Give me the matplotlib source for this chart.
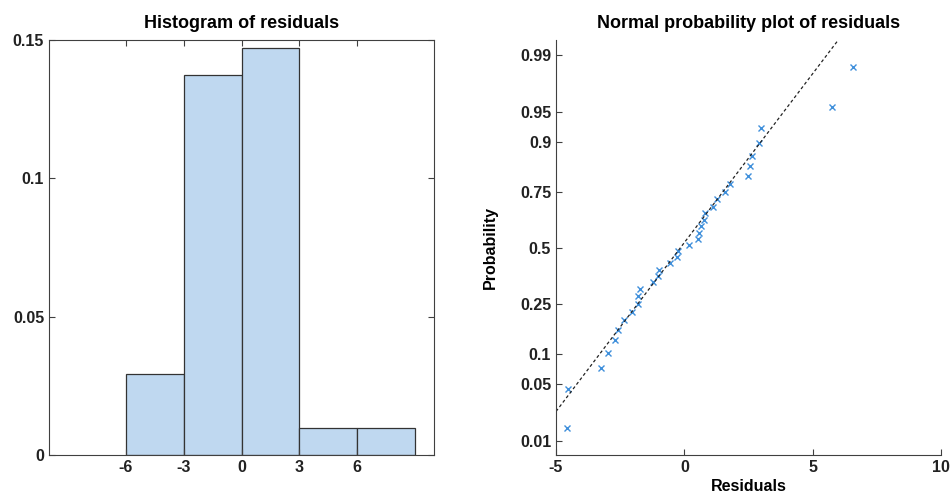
import numpy as np
import matplotlib
matplotlib.use('Agg')
import matplotlib.pyplot as plt
from statistics import NormalDist

# residuals (sorted)
residuals = [-4.58, -4.55, -3.25, -2.97, -2.69, -2.58, -2.36, -2.04, -1.82, -1.79,
             -1.74, -1.21, -1.01, -0.97, -0.56, -0.29, -0.23, 0.19, 0.53, 0.58,
             0.65, 0.75, 0.79, 1.13, 1.27, 1.57, 1.78, 2.49, 2.56, 2.65,
             2.92, 2.99, 5.75, 6.57]
bin_edges = [-6, -3, 0, 3, 6, 9]
hist_yticks = [0, 0.05, 0.1, 0.15]
hist_xticks = [-6, -3, 0, 3, 6]
prob_ticks = [0.01, 0.05, 0.1, 0.25, 0.5, 0.75, 0.9, 0.95, 0.99]
prob_labels = ['0.01', '0.05', '0.1', '0.25', '0.5', '0.75', '0.9', '0.95', '0.99']

plt.rcParams['font.family'] = ['Liberation Sans', 'DejaVu Sans']
plt.rcParams['font.weight'] = 'bold'
plt.rcParams['axes.unicode_minus'] = False
axcol = '#404040'

nd = NormalDist()
z = lambda p: nd.inv_cdf(p)

fig = plt.figure(figsize=(9.5, 4.96), dpi=100)

# histogram
ax1 = fig.add_axes([0.0516, 0.0827, 0.4053, 0.8367])
ax1.hist(residuals, bins=bin_edges, density=True, color='#BFD8F0',
         edgecolor='#333333', linewidth=0.9)
ax1.set_xlim(-10, 10)
ax1.set_ylim(0, 0.15)
ax1.set_xticks(hist_xticks)
ax1.set_yticks(hist_yticks)
ax1.set_yticklabels(['0', '0.05', '0.1', '0.15'])
ax1.tick_params(direction='in', top=True, right=True, labelsize=11.5,
                colors=axcol, labelcolor='#222222', length=4)
for s in ax1.spines.values():
    s.set_color(axcol)
ax1.set_title('Histogram of residuals', fontsize=13, fontweight='bold', pad=8.5)

# normal probability plot
ax2 = fig.add_axes([0.5853, 0.0827, 0.4053, 0.8367])
x = np.sort(np.array(residuals))
n = len(x)
p = (np.arange(1, n + 1) - 0.5) / n
zp = np.array([z(v) for v in p])
ax2.plot(x, zp, 'x', color='#3F8FDB', markersize=4, markeredgewidth=1.0)

q1, q3 = np.percentile(x, [25, 75])
slope = (z(0.75) - z(0.25)) / (q3 - q1)
xl = np.array([-5, 10])
ax2.plot(xl, z(0.25) + slope * (xl - q1), '--', color='#222222',
         linewidth=0.9, dashes=(2.5, 2))

ax2.set_xlim(-5, 10)
ax2.set_ylim(-2.5, 2.51)
ax2.set_xticks([-5, 0, 5, 10])
ax2.set_yticks([z(v) for v in prob_ticks])
ax2.set_yticklabels(prob_labels)
ax2.spines['top'].set_visible(False)
ax2.spines['right'].set_visible(False)
for s in ax2.spines.values():
    s.set_color(axcol)
ax2.tick_params(direction='in', labelsize=11.5, colors=axcol,
                labelcolor='#222222', length=4)
ax2.set_title('Normal probability plot of residuals', fontsize=13,
              fontweight='bold', pad=8.5)
ax2.set_xlabel('Residuals', fontsize=11.5, fontweight='bold', labelpad=3)
ax2.set_ylabel('Probability', fontsize=11.5, fontweight='bold', labelpad=16)

fig.savefig('out.png', dpi=100)
